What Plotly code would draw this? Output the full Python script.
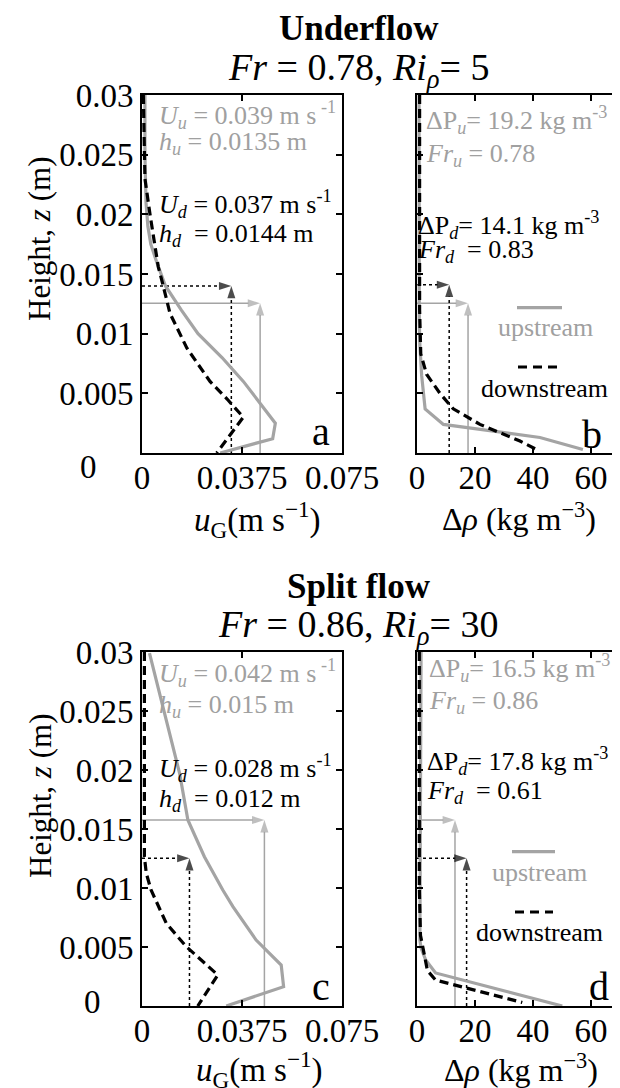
import plotly.graph_objects as go

W, H = 620, 1088
OFF = 8  # page body margin offset of the plot div

# ---------------- data ----------------
# Panel a: underflow, velocity u_G (m/s) vs height z (m)
z_a_up = [0.03, 0.025, 0.021, 0.019, 0.0175, 0.016, 0.014, 0.012, 0.010, 0.008, 0.006, 0.004, 0.0025, 0.0012, 0.0]
u_a_up = [0.0011, 0.0011, 0.0015, 0.0022, 0.0033, 0.0055, 0.0088, 0.0147, 0.021, 0.030, 0.038, 0.045, 0.050, 0.049, 0.0293]
z_a_dn = [0.03, 0.023, 0.02, 0.0175, 0.0156, 0.0145, 0.0117, 0.0088, 0.006, 0.0045, 0.003, 0.0]
u_a_dn = [0.0005, 0.0011, 0.003, 0.0048, 0.0061, 0.0074, 0.0105, 0.0168, 0.0255, 0.032, 0.038, 0.028]

# Panel b: underflow, density excess (kg/m3)
z_b_up = [0.03, 0.015, 0.011, 0.009, 0.0065, 0.0037, 0.0024, 0.0013, 0.0003]
d_b_up = [0.7, 0.7, 0.8, 1.0, 1.6, 2.8, 9.1, 42.4, 57.2]
z_b_dn = [0.03, 0.012, 0.0083, 0.0066, 0.005, 0.0037, 0.0024, 0.001, 0.0002]
d_b_dn = [0.9, 0.9, 1.3, 3.3, 7.9, 12.5, 21.7, 35.5, 42.0]

# Panel c: split flow, velocity
z_c_up = [0.0299, 0.0282, 0.02536, 0.02254, 0.01972, 0.01576, 0.01265, 0.00983, 0.00842, 0.00559, 0.00347, 0.00164, 0.0]
u_c_up = [0.0028, 0.0047, 0.0078, 0.011, 0.0141, 0.0172, 0.0234, 0.0303, 0.0341, 0.0428, 0.0522, 0.0531, 0.0316]
z_c_dn = [0.03, 0.01265, 0.01125, 0.00983, 0.00701, 0.00503, 0.0039, 0.00263, 0.0]
u_c_dn = [0.0009, 0.0009, 0.0016, 0.0034, 0.0091, 0.0166, 0.0222, 0.0284, 0.0209]

# Panel d: split flow, density excess
z_d_up = [0.03, 0.01, 0.0056, 0.0049, 0.0039, 0.0028, 0.0]
d_d_up = [1.4, 1.2, 1.0, 1.4, 3.0, 6.4, 50.1]
z_d_dn = [0.03, 0.01, 0.006, 0.0045, 0.003, 0.0022, 0.0003]
d_d_dn = [0.8, 0.8, 1.2, 2.4, 3.6, 6.4, 36.3]

# Arrow targets (x value, height) per panel: upstream (grey) and downstream (black)
arrow_up = {"a": (0.0443, 0.01255), "b": (17.6, 0.01255), "c": (0.0459, 0.01576), "d": (13.1, 0.01576)}
arrow_dn = {"a": (0.0335, 0.0140), "b": (11.1, 0.0141), "c": (0.0178, 0.01252), "d": (17.1, 0.01252)}

# Ticks
u_ticks = [0, 0.0375, 0.075]
u_ticktext = ["0", "0.0375", "0.075"]
rho_ticks = [0, 20, 40, 60]
rho_ticktext = ["0", "20", "40", "60"]
z_ticks = [0.005, 0.01, 0.015, 0.02, 0.025, 0.03]
z_ticktext = ["0.005", "0.01", "0.015", "0.02", "0.025", "0.03"]

titles = ["<b>Underflow</b>", "<b>Split flow</b>"]
subtitles = ["<i>Fr</i> = 0.78, <i>Ri</i><sub><i>ρ</i></sub>= 5",
             "<i>Fr</i> = 0.86, <i>Ri</i><sub><i>ρ</i></sub>= 30"]
vel_text = [
    ["<i>U</i><sub><i>u</i></sub> = 0.039 m s<sup> -1</sup>", "<i>h</i><sub><i>u</i></sub> = 0.0135 m",
     "<i>U</i><sub><i>d</i></sub> = 0.037 m s<sup>-1</sup>", "<i>h</i><sub><i>d</i></sub>  = 0.0144 m"],
    ["<i>U</i><sub><i>u</i></sub> = 0.042 m s<sup> -1</sup>", "<i>h</i><sub><i>u</i></sub> = 0.015 m",
     "<i>U</i><sub><i>d</i></sub> = 0.028 m s<sup>-1</sup>", "<i>h</i><sub><i>d</i></sub>  = 0.012 m"],
]
rho_text = [
    ["ΔP<sub><i>u</i></sub>= 19.2 kg m<sup>-3</sup>", "<i>Fr</i><sub><i>u</i></sub> = 0.78",
     "ΔP<sub><i>d</i></sub>= 14.1 kg m<sup>-3</sup>", "<i>Fr</i><sub><i>d</i></sub>  = 0.83"],
    ["ΔP<sub><i>u</i></sub>= 16.5 kg m<sup>-3</sup>", "<i>Fr</i><sub><i>u</i></sub> = 0.86",
     "ΔP<sub><i>d</i></sub>= 17.8 kg m<sup>-3</sup>", "<i>Fr</i><sub><i>d</i></sub>  = 0.61"],
]

# ---------------- styling ----------------
GREY = "#a4a4a4"
GREY_T = "#a0a0a0"
FONT = "Liberation Serif, Times New Roman, serif"


def px(p):
    return (p - OFF) / W


def py(p):
    return 1 - (p - OFF) / H


# panel pixel boxes in the final picture (left, right, top, bottom)
boxes = {"a": (142, 342, 95, 453), "b": (417, 620, 95, 453),
         "c": (142, 342, 652, 1006), "d": (417, 620, 652, 1006)}
axis_ids = {"a": ("x", "y"), "b": ("x2", "y2"), "c": ("x3", "y3"), "d": ("x4", "y4")}

fig = go.Figure()

series = {
    "a": (u_a_up, z_a_up, u_a_dn, z_a_dn),
    "b": (d_b_up, z_b_up, d_b_dn, z_b_dn),
    "c": (u_c_up, z_c_up, u_c_dn, z_c_dn),
    "d": (d_d_up, z_d_up, d_d_dn, z_d_dn),
}


def arrow_trace(xs, ys, xa, ya, col, dash):
    return go.Scatter(x=xs, y=ys, xaxis=xa, yaxis=ya, mode="lines+markers",
                      line=dict(color=col, width=1.5, dash=dash),
                      marker=dict(symbol="arrow", size=[0, 13], angleref="previous",
                                  color=col, line=dict(width=0)),
                      showlegend=False, hoverinfo="skip")


annotations = []
for key, (xu, zu, xd, zd) in series.items():
    xa, ya = axis_ids[key]
    ux, uz = arrow_up[key]
    dx, dz = arrow_dn[key]
    fig.add_trace(arrow_trace([0, ux], [uz, uz], xa, ya, GREY, "solid"))
    fig.add_trace(arrow_trace([ux, ux], [0, uz], xa, ya, GREY, "solid"))
    fig.add_trace(arrow_trace([0, dx], [dz, dz], xa, ya, "black", "3px,3px"))
    fig.add_trace(arrow_trace([dx, dx], [0, dz], xa, ya, "black", "3px,3px"))
    fig.add_trace(go.Scatter(x=xu, y=zu, xaxis=xa, yaxis=ya, mode="lines",
                             line=dict(color=GREY, width=3.2), showlegend=False))
    fig.add_trace(go.Scatter(x=xd, y=zd, xaxis=xa, yaxis=ya, mode="lines",
                             line=dict(color="black", width=3.2, dash="9px,5px"), showlegend=False))

# axes
layout_axes = {}
for key, (l, r, t, b) in boxes.items():
    xa, ya = axis_ids[key]
    xname = "xaxis" if xa == "x" else "xaxis" + xa[1:]
    yname = "yaxis" if ya == "y" else "yaxis" + ya[1:]
    is_vel = key in ("a", "c")
    common = dict(ticks="inside", ticklen=6, tickwidth=1.5, tickcolor="black",
                  showline=True, linecolor="black", linewidth=2, mirror="ticks",
                  showgrid=False, zeroline=False, automargin=False,
                  tickfont=dict(family=FONT, size=33, color="black"))
    layout_axes[xname] = dict(domain=[px(l), px(r)], anchor=ya,
                              range=[0, 0.075] if is_vel else [0, 70],
                              tickvals=u_ticks if is_vel else rho_ticks,
                              ticktext=u_ticktext if is_vel else rho_ticktext,
                              ticklabelstandoff=-6, **common)
    layout_axes[yname] = dict(domain=[py(b), py(t)], anchor=xa, range=[0, 0.03],
                              tickvals=z_ticks, ticktext=z_ticktext,
                              showticklabels=is_vel, **common)


def txt(x, y, s, size=26, color="black", xanchor="left", yanchor="middle", angle=0):
    annotations.append(dict(x=px(x), y=py(y), xref="paper", yref="paper", text=s, showarrow=False,
                            xanchor=xanchor, yanchor=yanchor, textangle=angle,
                            font=dict(family=FONT, size=size, color=color)))


for i, off in enumerate((0, 557)):
    txt(359, 29 + off, titles[i], size=35, xanchor="center")
    txt(358, 70 + off, subtitles[i], size=38, xanchor="center")
    txt(40, 239 + off, "Height, <i>z</i> (m)", size=31, xanchor="center", angle=-90)

# y "0" labels
txt(88, 467, "0", size=33, xanchor="center")
txt(92, 1002, "0", size=33, xanchor="center")
# x axis titles
txt(258, 519, "<i>u</i><sub>G</sub>(m s<sup>−1</sup>)", size=33, xanchor="center")
txt(519, 517, "Δ<i>ρ</i> (kg m<sup>−3</sup>)", size=32, xanchor="center")
txt(259, 1069, "<i>u</i><sub>G</sub>(m s<sup>−1</sup>)", size=33, xanchor="center")
txt(521, 1068, "Δ<i>ρ</i> (kg m<sup>−3</sup>)", size=32, xanchor="center")

# panel texts
vel_pos = [[(157, 115), (157, 143), (157, 204), (157, 235)],
           [(157, 673), (157, 706), (157, 768), (157, 800)]]
rho_pos = [[(424, 120), (424, 155), (416, 225), (416, 251)],
           [(427, 668), (427, 702), (425, 761), (425, 792)]]
for i in range(2):
    for j in range(4):
        col = GREY_T if j < 2 else "black"
        txt(vel_pos[i][j][0], vel_pos[i][j][1], vel_text[i][j], color=col)
        txt(rho_pos[i][j][0], rho_pos[i][j][1], rho_text[i][j], color=col)

# panel letters
for letter, (x, y) in {"a": (321, 432), "b": (592, 434), "c": (321, 986), "d": (599, 986)}.items():
    txt(x, y, letter, size=40, xanchor="center")

# manual legends
shapes = []
for (gy, gx0, gx1, uy, ux_, dy, dx0, dx1, dwy, dwx) in [
        (307.7, 517, 562, 327, 545, 367, 518, 557, 388, 544),
        (851.7, 512, 555, 872, 539, 912, 515, 553, 932, 539)]:
    shapes.append(dict(type="line", xref="paper", yref="paper", x0=px(gx0), x1=px(gx1), y0=py(gy), y1=py(gy),
                       line=dict(color=GREY, width=3.2)))
    shapes.append(dict(type="line", xref="paper", yref="paper", x0=px(dx0), x1=px(dx1), y0=py(dy), y1=py(dy),
                       line=dict(color="black", width=3.2, dash="9px,6px")))
    txt(ux_, uy, "upstream", size=26, color=GREY_T, xanchor="center")
    txt(dwx, dwy, "downstream", size=26, color="black", xanchor="center")

fig.update_layout(width=W, height=H, autosize=False,
                  margin=dict(l=0, r=0, t=0, b=0, pad=0, autoexpand=False),
                  paper_bgcolor="white", plot_bgcolor="white",
                  annotations=annotations, shapes=shapes, showlegend=False,
                  **layout_axes)

fig.write_html("out.html")
